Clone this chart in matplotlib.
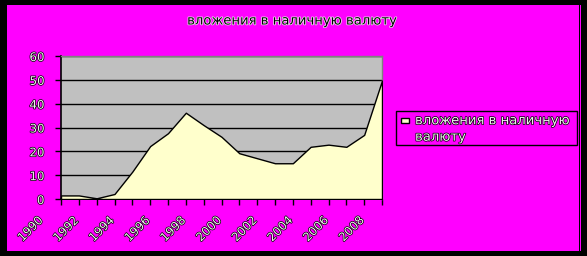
import matplotlib
matplotlib.use("Agg")
import matplotlib.pyplot as plt
import matplotlib.patheffects as pe
import matplotlib.transforms as mtransforms
from matplotlib.patches import Rectangle

# Data
years = list(range(1990, 2009))
values = [1.5, 1.5, 0.3, 2.1, 11.5, 22.2, 27.6, 36.2, 31.0, 26.1,
          19.2, 17.1, 15.0, 15.0, 21.9, 22.8, 21.9, 26.9, 49.7]
series_name = "вложения в наличную валюту"
title_text = "вложения в наличную валюту"
y_ticks = [0, 10, 20, 30, 40, 50, 60]
label_years = [y for y in years if y % 2 == 0]

W, H, DPI = 587, 256, 100
fig = plt.figure(figsize=(W / DPI, H / DPI), dpi=DPI)
fig.patch.set_facecolor("black")

# Magenta chart area inside the black frame
fig.add_artist(Rectangle((7 / W, 5 / H), (579 - 7) / W, 246 / H,
                         transform=fig.transFigure, facecolor="#FF00FF",
                         edgecolor="none", zorder=0))
fig.add_artist(Rectangle((580 / W, 5 / H), 1 / W, 246 / H,
                         transform=fig.transFigure, facecolor="#FF00FF",
                         edgecolor="none", zorder=0))

left, right, top, bottom = 61, 382, 56, 199
ax = fig.add_axes([left / W, 1 - bottom / H, (right - left) / W, (bottom - top) / H])
ax.set_facecolor("#C0C0C0")

ax.fill_between(years, values, 0, facecolor="#FFFFCC", edgecolor="black",
                linewidth=1.0, zorder=3, label=series_name)

ax.set_xlim(1990, 2008)
ax.set_ylim(0, 60)
ax.set_yticks(y_ticks)
ax.yaxis.grid(True, color="black", linewidth=1.0, zorder=1)
ax.set_axisbelow(True)

ax.set_xticks(years)
ax.set_xticklabels([str(y) if y in label_years else "" for y in years])

for s in ("left", "bottom"):
    ax.spines[s].set_color("black")
    ax.spines[s].set_linewidth(1.2)
for s in ("top", "right"):
    ax.spines[s].set_color("#808080")
    ax.spines[s].set_linewidth(1.0)
ax.spines["top"].set_zorder(4)
ax.spines["right"].set_zorder(2)

txt_fx = [pe.withStroke(linewidth=1.0, foreground="black")]
light = "#EEEEEE"

ax.tick_params(axis="y", length=4, width=1, color="black", pad=8,
               labelsize=8.5, labelcolor=light)
ax.tick_params(axis="x", length=4, width=1, color="black", pad=0,
               labelsize=8.5, labelcolor=light)

for lab in ax.get_yticklabels():
    lab.set_path_effects(txt_fx)

offset = mtransforms.ScaledTranslation(-20 / DPI, -14 / DPI, fig.dpi_scale_trans)
for lab in ax.get_xticklabels():
    lab.set_rotation(45)
    lab.set_rotation_mode("anchor")
    lab.set_ha("right")
    lab.set_va("center")
    lab.set_transform(lab.get_transform() + offset)
    lab.set_path_effects(txt_fx)

fig.text(293 / W, 1 - 21 / H, title_text, ha="center", va="center",
         fontsize=9.5, color="black",
         path_effects=[pe.withStroke(linewidth=1.0, foreground="#F0F0F0")])

# Legend box
fig.add_artist(Rectangle((396 / W, 1 - 145 / H), (577 - 396) / W, (145 - 111) / H,
                         transform=fig.transFigure, facecolor="#FF00FF",
                         edgecolor="black", linewidth=1.0, zorder=2))
fig.add_artist(Rectangle((401 / W, 1 - 123 / H), 8 / W, 5 / H,
                         transform=fig.transFigure, facecolor="#FFFFCC",
                         edgecolor="black", linewidth=1.0, zorder=3))
fig.text(415 / W, 1 - 129 / H, "вложения в наличную\nвалюту", ha="left", va="center",
         fontsize=9.5, color=light, linespacing=1.35, zorder=3,
         path_effects=txt_fx)

fig.savefig("out.png", dpi=DPI, facecolor=fig.get_facecolor())
